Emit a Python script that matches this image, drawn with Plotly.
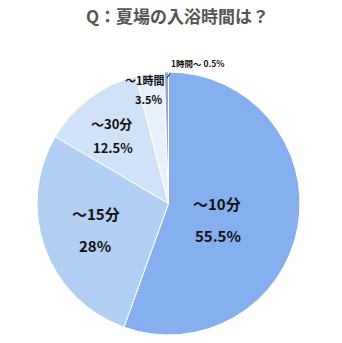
import plotly.graph_objects as go

labels = ["～10分", "～15分", "～30分", "～1時間", "1時間～"]
values = [55.5, 28, 12.5, 3.5, 0.5]
colors = ["#86aff0", "#b2cff4", "#d0e2f8", "#e8f0fb", "#9aa8bc"]
title = "Q：夏場の入浴時間は？"

W, H = 342, 343
cx, cy, r = 168.5, 203.5, 131.5

fig = go.Figure(go.Pie(
    labels=labels, values=values, sort=False, direction="clockwise", rotation=0,
    marker=dict(colors=colors, line=dict(color="white", width=1)),
    textinfo="none", hoverinfo="label+percent",
    domain=dict(x=[(cx - r) / W, (cx + r) / W], y=[1 - (cy + r) / H, 1 - (cy - r) / H]),
    showlegend=False,
))

def fmt(v):
    return f"{v:g}%"

font_jp = "Noto Sans CJK JP"
place = [
    ((217, 203), (218, 235), 15),
    ((96, 213), (95, 245), 15),
    ((111, 123), (113, 147), 13),
    ((145, 80), (149, 99), 11),
]

def txt(x, y, s, size, color="#111"):
    return dict(x=x / W, y=1 - y / H, xref="paper", yref="paper", text=s, showarrow=False,
                xanchor="center", yanchor="middle",
                font=dict(family=font_jp, size=size, color=color))

ann = []
for i, ((lx, ly), (vx, vy), fs) in enumerate(place):
    ann.append(txt(lx, ly, f"<b>{labels[i]}</b>", fs))
    ann.append(txt(vx, vy, f"<b>{fmt(values[i])}</b>", fs))
ann.append(txt(197, 63, f"<b>{labels[4]} {fmt(values[4])}</b>", 8.5))
ann.append(dict(x=167 / W, y=1 - 78 / H, ax=4, ay=-6, xref="paper", yref="paper",
                text="", showarrow=True, arrowhead=0, arrowwidth=1,
                arrowcolor="#111", standoff=0, startstandoff=0))
ann.append(txt(177, 15, f"<b>{title}</b>", 17, "#555"))

fig.update_layout(width=W, height=H, margin=dict(l=0, r=0, t=0, b=0),
                  paper_bgcolor="white", plot_bgcolor="white", annotations=ann)
fig.write_html("out.html")
